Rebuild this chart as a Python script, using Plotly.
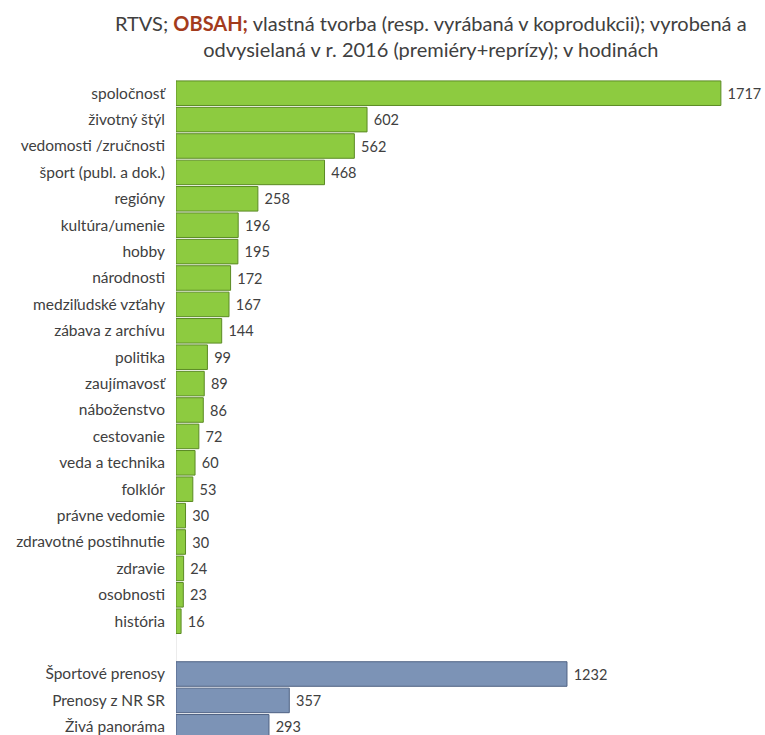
import plotly.graph_objects as go

# obsah - vlastna tvorba RTVS 2016, v hodinach
green_labels = ["spoločnosť", "životný štýl", "vedomosti /zručnosti", "šport (publ. a dok.)",
                "regióny", "kultúra/umenie", "hobby", "národnosti", "medziľudské vzťahy",
                "zábava z archívu", "politika", "zaujímavosť", "náboženstvo", "cestovanie",
                "veda a technika", "folklór", "právne vedomie", "zdravotné postihnutie",
                "zdravie", "osobnosti", "história"]
green_values = [1717, 602, 562, 468, 258, 196, 195, 172, 167, 144, 99, 89, 86, 72, 60, 53,
                30, 30, 24, 23, 16]

blue_labels = ["Športové prenosy", "Prenosy z NR SR", "Živá panoráma"]
blue_values = [1232, 357, 293]

font = "Lato, Open Sans, sans-serif"

# one empty row between the two groups
green_pos = list(range(len(green_labels)))
blue_pos = [len(green_labels) + 1 + i for i in range(len(blue_labels))]

fig = go.Figure()
fig.add_trace(go.Bar(
    y=green_pos, x=green_values, orientation="h",
    marker=dict(color="#8DCB40", line=dict(color="#5B8A24", width=1)),
    texttemplate="\u00a0%{x}", textposition="outside", cliponaxis=False,
    textfont=dict(color="#404040", size=14.5, family=font),
))
fig.add_trace(go.Bar(
    y=blue_pos, x=blue_values, orientation="h",
    marker=dict(color="#7C93B6", line=dict(color="#4E6183", width=1)),
    texttemplate="\u00a0%{x}", textposition="outside", cliponaxis=False,
    textfont=dict(color="#404040", size=14.5, family=font),
))

fig.update_layout(
    width=765, height=735,
    margin=dict(l=176, r=0, t=80, b=0),
    plot_bgcolor="white", paper_bgcolor="white",
    showlegend=False, bargap=0.07,
    font=dict(family=font, color="#404040", size=14.5),
    annotations=[dict(
        text="RTVS; <b><span style='color:#A33B1C'>OBSAH;</span></b> vlastná tvorba (resp. vyrábaná v koprodukcii); vyrobená a<br>odvysielaná v r. 2016 (premiéry+reprízy); v hodinách",
        xref="paper", yref="paper", x=0.433, y=1.067, xanchor="center", yanchor="middle",
        showarrow=False, align="center",
        font=dict(size=20, color="#404040", family=font),
    )],
)
fig.update_xaxes(range=[0, 1856], visible=False, automargin=False)
fig.update_yaxes(
    range=[24.31, -0.5], automargin=False,
    tickvals=green_pos + blue_pos, ticktext=green_labels + blue_labels,
    showgrid=False, zeroline=False,
    showline=False, ticks="", ticklabelstandoff=10, ticklabeloverflow="allow",
    tickfont=dict(size=15.5, color="#404040", family=font),
)
# axis line on the left of the bars
fig.add_shape(type="line", xref="x", yref="paper", x0=0, x1=0, y0=0, y1=1,
              line=dict(color="#D9D9D9", width=1), layer="below")

# drop the default page margin so the figure fills the window
fig.write_html("out.html", config={"displayModeBar": False},
               post_script="document.body.style.margin='0';document.body.style.overflow='hidden';")
